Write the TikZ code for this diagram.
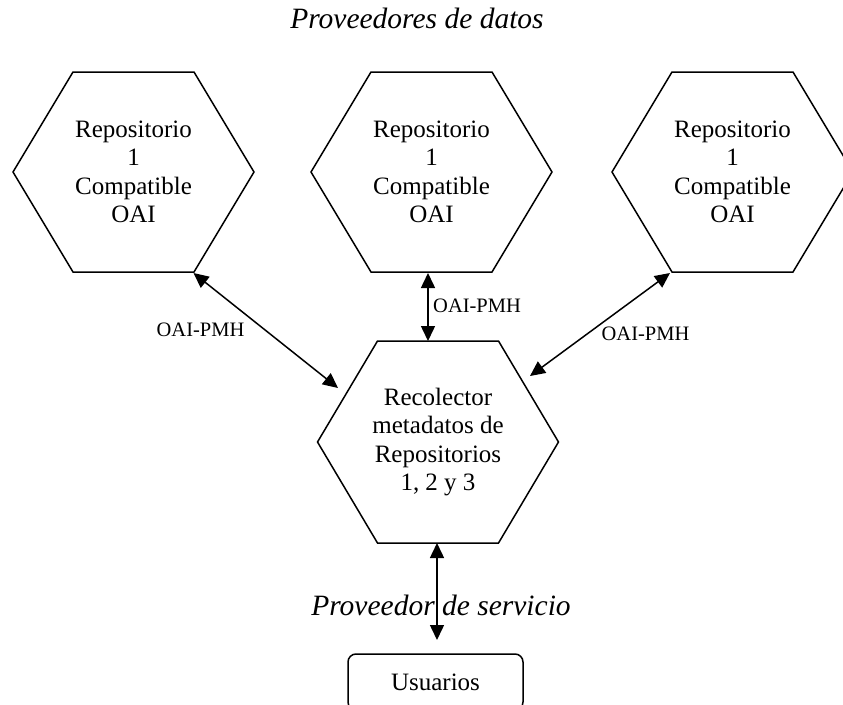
\documentclass[tikz,border=0pt]{standalone}
\usepackage{fontspec}
\setmainfont{Liberation Serif}
\usetikzlibrary{arrows.meta,calc}

\tikzset{
  hexline/.style={line width=1.5pt, line join=miter},
  hextext/.style={align=center, inner sep=0pt, font=\fontsize{25}{28.5}\selectfont},
  protocol/.style={anchor=base, inner sep=0pt, font=\fontsize{20.5}{24}\selectfont},
  role/.style={anchor=base, inner sep=0pt, font=\fontsize{29.5}{34}\selectfont\itshape},
  link/.style={{Triangle[length=15pt,width=14pt]}-{Triangle[length=15pt,width=14pt]}, line width=1.5pt},
}

\begin{document}
\begin{tikzpicture}[x=1pt,y=-1pt]
  \useasboundingbox (0,0) rectangle (843,704);
  \clip (0,0) rectangle (843,704);

  % Data providers (hexagons)
  \foreach \n/\cx in {repoA/133.5, repoB/431.5, repoC/732.5} {
    \draw[hexline] (\cx-60.5,72) -- (\cx+60.5,72) -- (\cx+120.5,172)
      -- (\cx+60.5,272) -- (\cx-60.5,272) -- (\cx-120.5,172) -- cycle;
    \node[hextext] (\n) at (\cx,172) {Repositorio\\1\\Compatible\\OAI};
  }

  % Harvester
  \draw[hexline] (377.5,341) -- (498.5,341) -- (558.5,442)
    -- (498.5,543) -- (377.5,543) -- (317.5,442) -- cycle;
  \node[hextext] (recol) at (438,442) {Recolector\\metadatos de\\Repositorios\\1, 2 y 3};

  % Users
  \node[draw, line width=1.5pt, rounded corners=8pt, minimum width=175pt,
        minimum height=56pt, inner sep=0pt, font=\fontsize{25}{28.5}\selectfont]
        (users) at (435.5,682) {Usuarios};

  % Connector ends
  \coordinate (repoA-br) at ($(repoA)+(60,101)$);
  \coordinate (repoC-bl) at ($(repoC)+(-62.5,101)$);
  \coordinate (repoB-b) at (428,273);
  \coordinate (recol-t) at (428,341);
  \coordinate (recol-w) at ($(recol)+(-100,-54)$);
  \coordinate (recol-e) at ($(recol)+(92,-66)$);
  \coordinate (recol-b) at (437,543);
  \coordinate (users-t) at (437,640);

  % Connectors
  \draw[link] (repoA-br) -- (recol-w);
  \draw[link] (repoB-b) -- (recol-t);
  \draw[link] (repoC-bl) -- (recol-e);
  \draw[link] (recol-b) -- (users-t);

  % Labels
  \node[protocol] (pmhA) at (200.5,336) {OAI-PMH};
  \node[protocol, anchor=base west] (pmhB) at (433,312) {OAI-PMH};
  \node[protocol] (pmhC) at (645.5,340) {OAI-PMH};
  \node[role] (provData) at (417,28) {Proveedores de datos};
  \node[role] (provServ) at (441,615) {Proveedor de servicio};
\end{tikzpicture}
\end{document}
